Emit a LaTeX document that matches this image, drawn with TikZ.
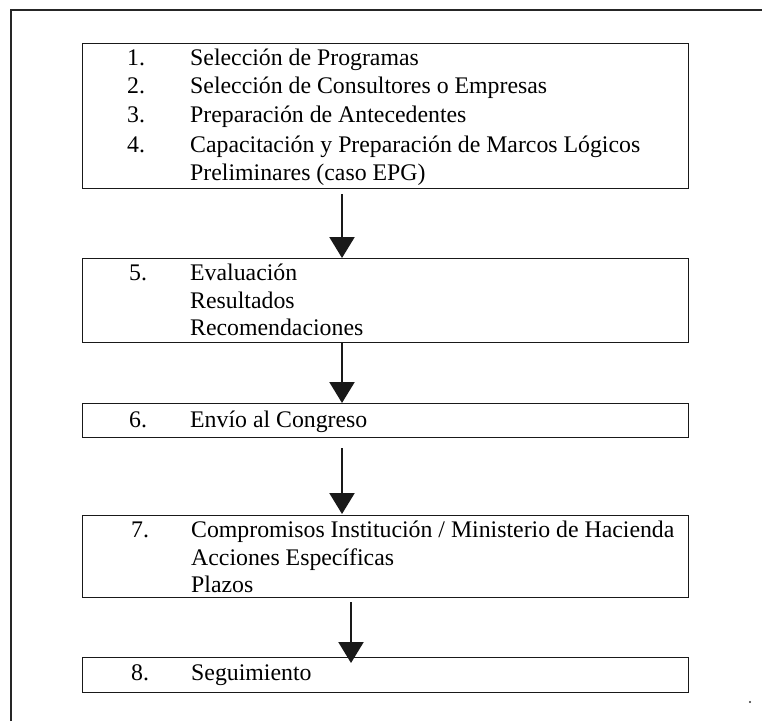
\documentclass[tikz,border=0pt]{standalone}
\usepackage{fontspec}
\setmainfont{Liberation Serif}
\usetikzlibrary{arrows.meta}
\tikzset{
  box/.style={draw=black!90, line width=1.3pt, rectangle, inner sep=0pt, anchor=north west},
  num/.style={anchor=base west, inner sep=0pt, font=\fontsize{23.8}{28}\selectfont},
  txt/.style={anchor=base west, inner sep=0pt, font=\fontsize{23.8}{28}\selectfont},
  arr/.style={draw=black!90, line width=2.2pt, -{Triangle[length=21pt, width=25pt]}},
  frame/.style={draw=black!85, line width=1.4pt}
}
\begin{document}
\begin{tikzpicture}[x=1pt, y=-1pt]
\useasboundingbox (0,0) rectangle (762,721);
% outer frame
\coordinate (fa) at (11,721);
\coordinate (fb) at (11,10);
\coordinate (fc) at (762,10);
\draw[frame] (fa) -- (fb) -- (fc);
% boxes
\node[box, minimum width=606pt, minimum height=145pt] (b1) at (82,43) {};
\node[box, minimum width=606pt, minimum height=84pt] (b5) at (82,258) {};
\node[box, minimum width=606pt, minimum height=34pt] (b6) at (82,403) {};
\node[box, minimum width=606pt, minimum height=82pt] (b7) at (82,515) {};
\node[box, minimum width=606pt, minimum height=35pt] (b8) at (82,657) {};
% box 1 texts
\node[num] (n1) at (127,65) {1.};
\node[txt] (s1) at (190,65) {Selección de Programas};
\node[num] (n2) at (127,93) {2.};
\node[txt] (s2) at (190,93) {Selección de Consultores o Empresas};
\node[num] (n3) at (127,122) {3.};
\node[txt] (s3) at (190,122) {Preparación de Antecedentes};
\node[num] (n4) at (127,152) {4.};
\node[txt] (s4) at (190,152) {Capacitación y Preparación de Marcos Lógicos};
\node[txt] (s4b) at (190,180) {Preliminares (caso EPG)};
% box 5 texts
\node[num] (n5) at (129,280) {5.};
\node[txt] (s5) at (190,280) {Evaluación};
\node[txt] (s5b) at (190,308) {Resultados};
\node[txt] (s5c) at (190,335) {Recomendaciones};
% box 6
\node[num] (n6) at (129,427) {6.};
\node[txt] (s6) at (190,427) {Envío al Congreso};
% box 7
\node[num] (n7) at (131,537) {7.};
\node[txt] (s7) at (191,537) {Compromisos Institución / Ministerio de Hacienda};
\node[txt] (s7b) at (191,565) {Acciones Específicas};
\node[txt] (s7c) at (191,592) {Plazos};
% box 8
\node[num] (n8) at (131,680) {8.};
\node[txt] (s8) at (191,680) {Seguimiento};
% arrows
\coordinate (ax) at (342,0);
\coordinate (bx) at (351,0);
\draw[arr] ([yshift=-5pt]b1.south -| ax) -- (b5.north -| ax);
\draw[arr] (b5.south -| ax) -- (b6.north -| ax);
\draw[arr] ([yshift=-10pt]b6.south -| ax) -- ([yshift=1pt]b7.north -| ax);
\draw[arr] ([yshift=-4pt]b7.south -| bx) -- ([yshift=-6pt]b8.north -| bx);
% speck
\fill[black!80] (750,702) circle (1.2pt);
\end{tikzpicture}
\end{document}
